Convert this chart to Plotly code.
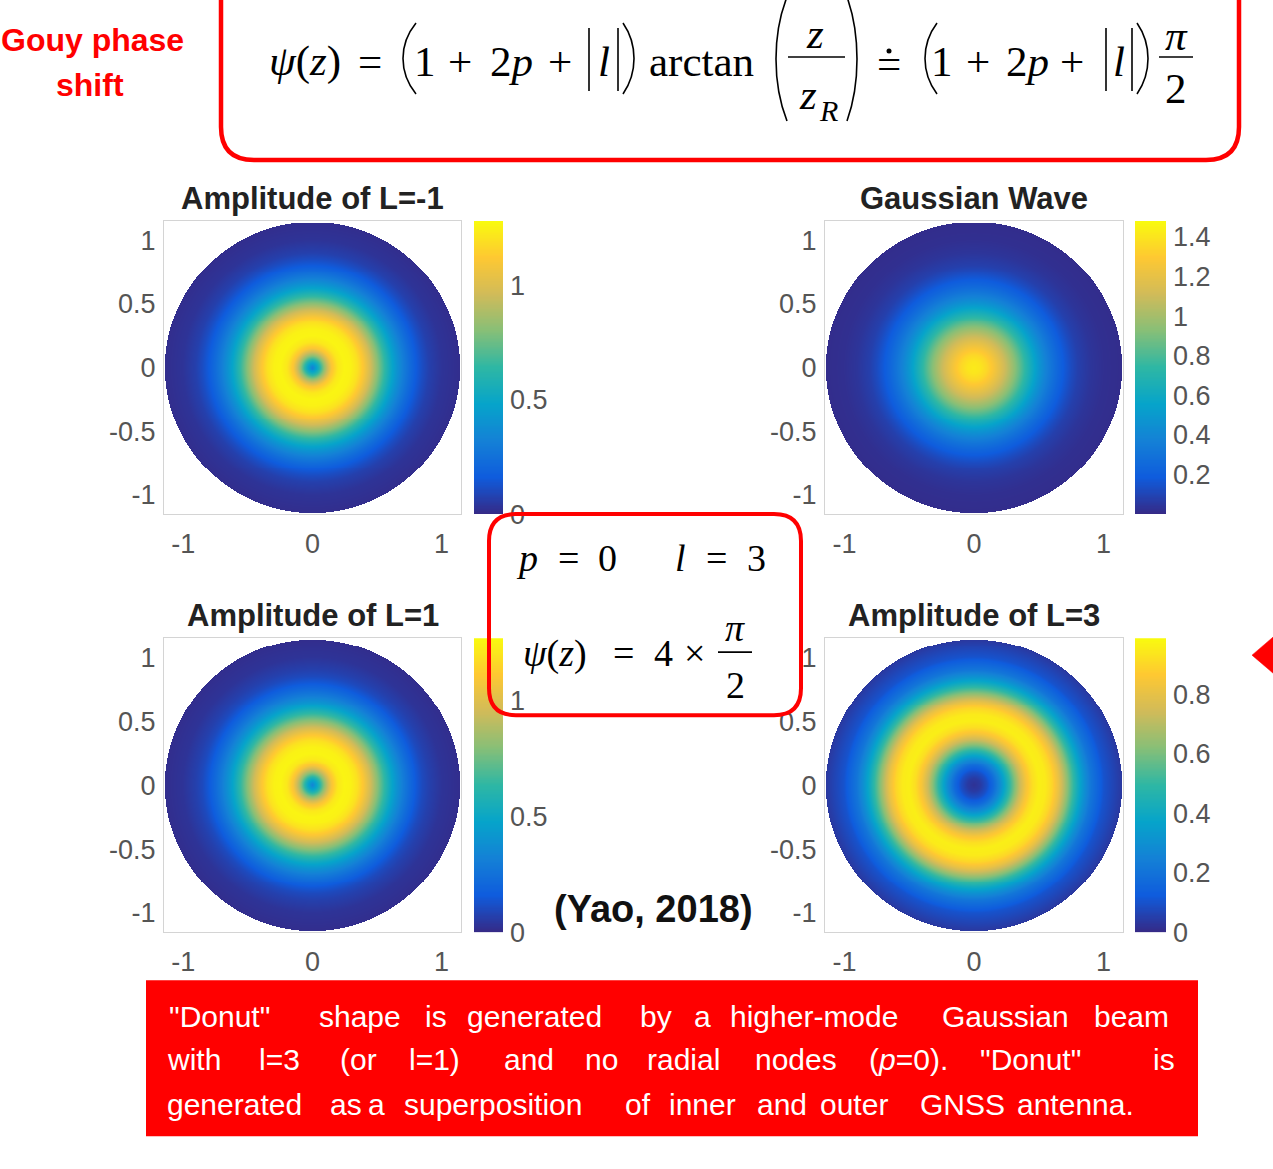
import numpy as np
import plotly.graph_objects as go

W, H = 1273, 1169
YS = 1.0132  # vertical compensation observed in the rendering pipeline

# ---------------- data ----------------
radius = [0.00, 0.05, 0.10, 0.15, 0.20, 0.25, 0.30, 0.35, 0.40, 0.45, 0.50,
          0.55, 0.60, 0.65, 0.70, 0.75, 0.80, 0.85, 0.90, 1.00, 1.15]
amp_l_minus1 = [0.30, 0.55, 0.85, 1.10, 1.22, 1.26, 1.25, 1.20, 1.10, 0.97, 0.82,
                0.67, 0.53, 0.41, 0.31, 0.23, 0.16, 0.11, 0.07, 0.03, 0.01]
amp_gauss = [1.42, 1.40, 1.35, 1.27, 1.18, 1.08, 0.97, 0.85, 0.72, 0.60, 0.48,
             0.38, 0.30, 0.23, 0.17, 0.12, 0.08, 0.06, 0.04, 0.02, 0.01]
amp_l_plus1 = [0.32, 0.55, 0.84, 1.08, 1.21, 1.25, 1.24, 1.19, 1.09, 0.96, 0.81,
               0.66, 0.52, 0.40, 0.30, 0.22, 0.15, 0.10, 0.07, 0.03, 0.01]
amp_l3 = [0.02, 0.04, 0.09, 0.17, 0.28, 0.42, 0.57, 0.72, 0.84, 0.92, 0.96,
          0.95, 0.90, 0.81, 0.68, 0.54, 0.41, 0.30, 0.21, 0.10, 0.03]

panel_titles = ["Amplitude of L=-1", "Gaussian Wave", "Amplitude of L=1", "Amplitude of L=3"]
colorbar_max = [1.28, 1.48, 1.27, 0.99]
colorbar_ticks = [[0, 0.5, 1], [0.2, 0.4, 0.6, 0.8, 1, 1.2, 1.4], [0, 0.5, 1], [0, 0.2, 0.4, 0.6, 0.8]]
x_ticks = [-1, 0, 1]
y_ticks = [-1, -0.5, 0, 0.5, 1]
disk_radius = 1.14
axis_lim = 1.15

profiles = [amp_l_minus1, amp_gauss, amp_l_plus1, amp_l3]

parula = [[0.0, '#352a87'], [0.125, '#0f5cdd'], [0.25, '#1481d6'], [0.375, '#06a4ca'],
          [0.5, '#2eb7a4'], [0.625, '#87bf77'], [0.75, '#d1bb59'], [0.875, '#fec832'],
          [1.0, '#f9fb0e']]

# ---------------- layout geometry (pixels) ----------------
panel_x = [(164, 461), (825, 1123), (164, 461), (825, 1123)]
panel_y = [(221, 514), (221, 514), (638, 932), (638, 932)]
cbar_x = [(474, 503), (1135, 1166), (474, 503), (1135, 1166)]
title_y = [198, 198, 615, 615]


def PX(px):
    return px / W


def PY(py):
    return 1 - py * YS / H


def fmt(v):
    return f"{v:g}"


fig = go.Figure()

grid = np.linspace(-axis_lim, axis_lim, 300)
gx, gy = np.meshgrid(grid, grid)
gr = np.sqrt(gx ** 2 + gy ** 2)

layout_axes = {}
tick_font = dict(family="Liberation Sans, Arial", size=27, color="#555555")

for i, prof in enumerate(profiles):
    z = np.interp(gr, radius, prof)
    z = np.where(gr <= disk_radius, z, np.nan)
    xa = 2 * i + 1
    ca = 2 * i + 2
    fig.add_trace(go.Heatmap(
        x=grid, y=grid, z=z, colorscale=parula, zmin=0, zmax=colorbar_max[i],
        showscale=False, hoverinfo="skip", xaxis=f"x{xa}", yaxis=f"y{xa}"))
    levels = np.linspace(0, colorbar_max[i], 256)
    fig.add_trace(go.Heatmap(
        x=[0], y=levels, z=levels[:, None], colorscale=parula, zmin=0,
        zmax=colorbar_max[i], showscale=False, hoverinfo="skip",
        xaxis=f"x{ca}", yaxis=f"y{ca}"))

    x0, x1 = panel_x[i]
    y0, y1 = panel_y[i]
    layout_axes[f"xaxis{xa}"] = dict(
        domain=[PX(x0), PX(x1)], range=[-axis_lim, axis_lim], anchor=f"y{xa}",
        tickvals=x_ticks, ticktext=[fmt(v) for v in x_ticks], ticks="",
        showline=True, mirror=True, linecolor="#d4d4d4", linewidth=1,
        showgrid=False, zeroline=False, tickfont=tick_font, ticklabelstandoff=5,
        fixedrange=True)
    layout_axes[f"yaxis{xa}"] = dict(
        domain=[PY(y1), PY(y0)], range=[-axis_lim, axis_lim], anchor=f"x{xa}",
        tickvals=y_ticks, ticktext=[fmt(v) for v in y_ticks], ticks="",
        showline=True, mirror=True, linecolor="#d4d4d4", linewidth=1,
        showgrid=False, zeroline=False, tickfont=tick_font, ticklabelstandoff=2,
        fixedrange=True)
    c0, c1 = cbar_x[i]
    layout_axes[f"xaxis{ca}"] = dict(
        domain=[PX(c0), PX(c1)], range=[-0.5, 0.5], anchor=f"y{ca}", visible=False,
        fixedrange=True)
    layout_axes[f"yaxis{ca}"] = dict(
        domain=[PY(y1), PY(y0)], range=[0, colorbar_max[i]], anchor=f"x{ca}",
        side="right", tickvals=colorbar_ticks[i],
        ticktext=[fmt(v) for v in colorbar_ticks[i]], ticks="",
        showline=False, showgrid=False, zeroline=False, tickfont=tick_font,
        ticklabelstandoff=6, fixedrange=True)

annotations = []


def txt(s, px, py, size, family="Liberation Serif, Times New Roman", color="black",
        xanchor="center"):
    annotations.append(dict(
        text=s, x=PX(px), y=PY(py), xref="paper", yref="paper", showarrow=False,
        xanchor=xanchor, yanchor="middle", font=dict(family=family, size=size, color=color),
        borderpad=0))


SANS = "Liberation Sans, Arial"

# panel titles
for i, t in enumerate(panel_titles):
    cx = (panel_x[i][0] + panel_x[i][1]) / 2
    txt(f"<b>{t}</b>", cx, title_y[i], 31, family=SANS, color="#222222")

# top-left label
txt("<b>Gouy phase</b>", 92, 40, 32, family=SANS, color="#ff0000")
txt("<b>shift</b>", 90, 85, 32, family=SANS, color="#ff0000")

# main equation pieces
S = 43
main_pieces = [
    ("<i>ψ</i>(<i>z</i>)", 305, 61), ("=", 370, 61), ("1", 425, 61), ("+", 460, 61),
    ("2<i>p</i>", 511, 61), ("+", 560, 61), ("<i>l</i>", 604, 61), ("arctan", 701, 61),
    ("<i>z</i>", 815, 33), ("<i>z</i>", 808, 94), ("=", 889, 63), ("1", 942, 61),
    ("+", 978, 61), ("2<i>p</i>", 1027, 61), ("+", 1072, 61), ("<i>l</i>", 1119, 61),
    ("<i>π</i>", 1176, 35), ("2", 1176, 88),
]
for s, px, py in main_pieces:
    txt(s, px, py, S)
txt("<i>R</i>", 828, 110, 30)

# middle box pieces
S2 = 38
box_pieces = [
    ("<i>p</i>", 527, 558), ("=", 568, 558), ("0", 607, 558),
    ("<i>l</i>", 680, 558), ("=", 716, 558), ("3", 756, 558),
    ("<i>ψ</i>(<i>z</i>)", 555, 653), ("=", 623, 653), ("4", 663, 653),
    ("×", 694, 653), ("<i>π</i>", 735, 628), ("2", 735, 685),
]
for s, px, py in box_pieces:
    txt(s, px, py, S2)

# citation
txt("<b>(Yao, 2018)</b>", 653, 909, 38, family=SANS, color="#111111")

# bottom red text, word positions
lines = [
    (1016, [('"Donut"', 168), ("shape", 318), ("is", 424), ("generated", 466), ("by", 639),
            ("a", 693), ("higher-mode", 729), ("Gaussian", 941), ("beam", 1093)]),
    (1059, [("with", 166), ("l=3", 258), ("(or", 339), ("l=1)", 408), ("and", 503),
            ("no", 584), ("radial", 646), ("nodes", 754), ("(<i>p</i>=0).", 868),
            ('"Donut"', 979), ("is", 1152)]),
    (1104, [("generated", 166), ("as", 329), ("a", 367), ("superposition", 403), ("of", 624),
            ("inner", 668), ("and", 756), ("outer", 819), ("GNSS", 919), ("antenna.", 1016)]),
]
for ly, words in lines:
    for w, wx in words:
        txt(w, wx, ly, 30, family=SANS, color="white", xanchor="left")

# ---------------- shapes ----------------
shapes = []


def pt(px, py):
    return f"{PX(px):.5f},{PY(py):.5f}"


def rrect_path(x0, y0, x1, y1, r):
    return ("M " + pt(x0 + r, y0) + " L " + pt(x1 - r, y0) + " Q " + pt(x1, y0) + " " + pt(x1, y0 + r)
            + " L " + pt(x1, y1 - r) + " Q " + pt(x1, y1) + " " + pt(x1 - r, y1)
            + " L " + pt(x0 + r, y1) + " Q " + pt(x0, y1) + " " + pt(x0, y1 - r)
            + " L " + pt(x0, y0 + r) + " Q " + pt(x0, y0) + " " + pt(x0 + r, y0) + " Z")


def add_path(path, color="black", width=1.6, fill=None):
    shapes.append(dict(type="path", path=path, xref="paper", yref="paper", layer="above",
                       line=dict(color=color, width=width),
                       fillcolor=fill if fill else "rgba(0,0,0,0)"))


def paren(apex, end, yt, yb, width=1.6):
    h = yb - yt
    xc = (apex - 0.25 * end) / 0.75
    p = ("M " + pt(end, yt) + " C " + pt(xc, yt + 0.3 * h) + " " + pt(xc, yb - 0.3 * h)
         + " " + pt(end, yb))
    add_path(p, width=width)


def hline(x0, x1, y, width=1.6, color="black"):
    shapes.append(dict(type="line", xref="paper", yref="paper", x0=PX(x0), x1=PX(x1),
                       y0=PY(y), y1=PY(y), layer="above", line=dict(color=color, width=width)))


def vline(x, y0, y1, width=1.6, color="black"):
    shapes.append(dict(type="line", xref="paper", yref="paper", x0=PX(x), x1=PX(x),
                       y0=PY(y0), y1=PY(y1), layer="above", line=dict(color=color, width=width)))


# top equation box (top edge off-canvas)
add_path(rrect_path(221, -60, 1239, 160, 33), color="#ff0000", width=4.5)
# middle box
add_path(rrect_path(489, 514, 801, 715, 27), color="#ff0000", width=4)
# bottom red rectangle
shapes.append(dict(type="rect", xref="paper", yref="paper", x0=PX(146), x1=PX(1198),
                   y0=PY(1136), y1=PY(980), fillcolor="#ff0000", line=dict(width=0),
                   layer="above"))
# red arrow head at right edge
add_path("M " + pt(1252, 655) + " L " + pt(1280, 631) + " L " + pt(1280, 679) + " Z",
         color="#ff0000", width=0.5, fill="#ff0000")

# parentheses
paren(403, 416, 23, 94)
paren(634, 623, 23, 94)
paren(776, 787, -3, 121)
paren(857, 847, -3, 121)
paren(925, 937, 23, 94)
paren(1148, 1137, 23, 94)
# absolute value bars
vline(589, 28, 91)
vline(618, 28, 91)
vline(1106, 28, 91)
vline(1132, 28, 91)
# fraction lines
hline(788, 845, 57)
hline(1159, 1193, 57)
hline(718, 752, 652)
# dot of the approx-equal sign
shapes.append(dict(type="circle", xref="paper", yref="paper", x0=PX(886.5), x1=PX(891.5),
                   y0=PY(53.5), y1=PY(48.5), fillcolor="black", line=dict(width=0),
                   layer="above"))

fig.update_layout(
    width=W, height=H, margin=dict(l=0, r=0, t=0, b=0), showlegend=False,
    paper_bgcolor="white", plot_bgcolor="white", annotations=annotations, shapes=shapes,
    **layout_axes)

fig.write_html(
    "out.html", config={"displayModeBar": False},
    post_script=("document.documentElement.style.overflow='hidden';"
                 "document.body.style.margin='0px';document.body.style.overflow='hidden';"))
